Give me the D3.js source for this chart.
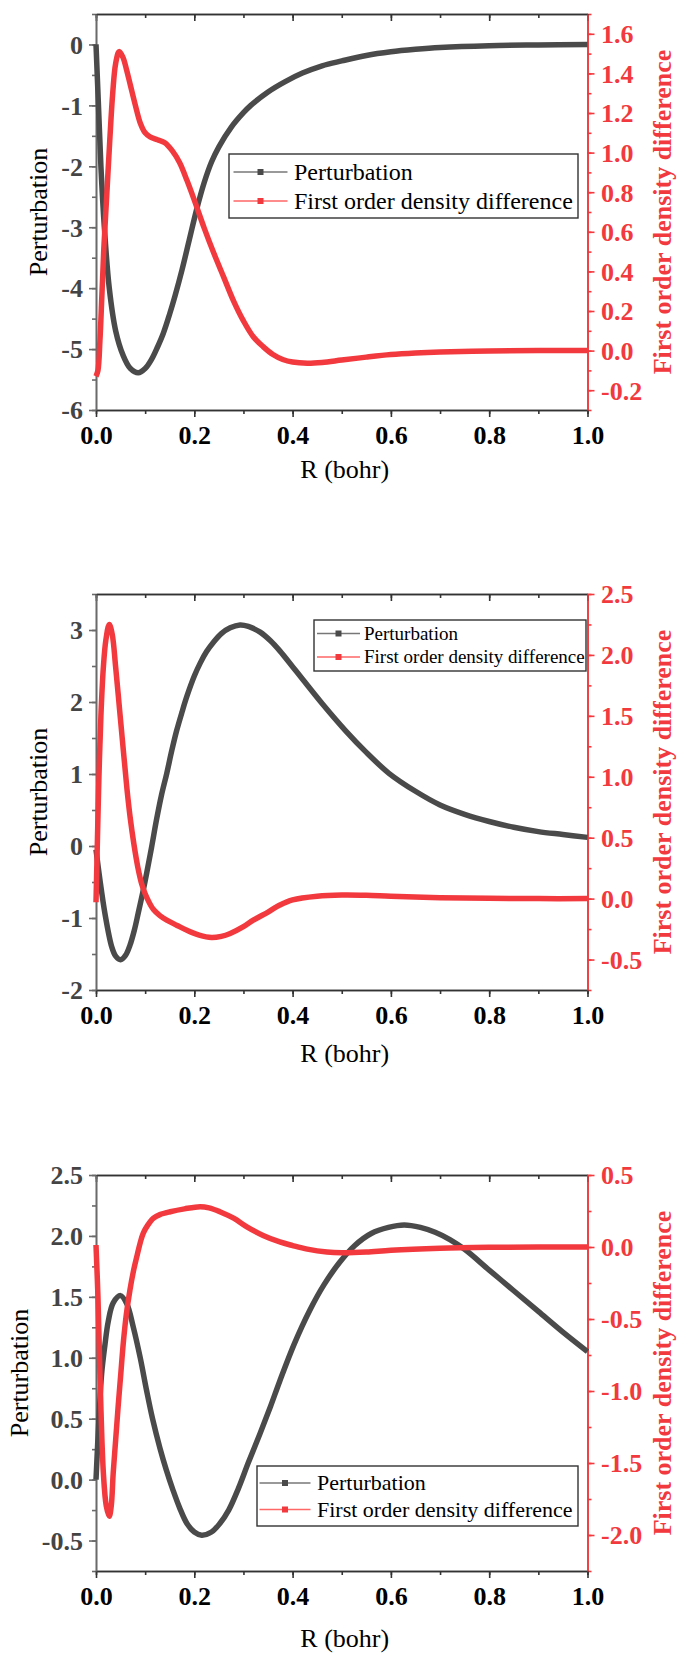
<!DOCTYPE html>
<html>
<head>
<meta charset="utf-8">
<script src="https://cdn.jsdelivr.net/npm/d3@7"></script>
<style>
  body { margin: 0; background: #fff; }
  svg text { font-family: "Liberation Serif", "Times New Roman", serif; }
</style>
</head>
<body>
<div id="chart"></div>
<script>
// ---------------- data (R in bohr) ----------------
var xTicks = [0, 0.2, 0.4, 0.6, 0.8, 1.0];

// panel 1
var p1PertR = [0, 0.005, 0.01, 0.017, 0.027, 0.04, 0.055, 0.07, 0.086, 0.1, 0.113, 0.125, 0.137, 0.15, 0.161, 0.175, 0.19, 0.205, 0.22, 0.235, 0.25, 0.275, 0.3, 0.315, 0.35, 0.385, 0.42, 0.46, 0.5, 0.55, 0.6, 0.65, 0.7, 0.8, 0.9, 1.0];
var p1PertV = [0, -1.0, -2.0, -3.0, -4.0, -4.7, -5.1, -5.32, -5.39, -5.32, -5.17, -4.97, -4.74, -4.42, -4.12, -3.7, -3.2, -2.7, -2.27, -1.93, -1.68, -1.36, -1.12, -1.0, -0.78, -0.61, -0.47, -0.35, -0.27, -0.18, -0.12, -0.08, -0.05, -0.02, -0.008, 0];
var p1DensR = [0, 0.004, 0.008, 0.012, 0.016, 0.022, 0.028, 0.034, 0.04, 0.047, 0.055, 0.062, 0.07, 0.08, 0.09, 0.1, 0.11, 0.125, 0.14, 0.155, 0.17, 0.185, 0.2, 0.22, 0.24, 0.26, 0.28, 0.3, 0.32, 0.34, 0.36, 0.38, 0.4, 0.43, 0.46, 0.5, 0.55, 0.6, 0.65, 0.7, 0.8, 0.9, 1.0];
var p1DensV = [-0.13, -0.1, 0.05, 0.28, 0.52, 0.79, 1.06, 1.3, 1.45, 1.51, 1.48, 1.42, 1.34, 1.24, 1.15, 1.1, 1.08, 1.065, 1.05, 1.01, 0.95, 0.86, 0.76, 0.62, 0.49, 0.37, 0.25, 0.15, 0.07, 0.02, -0.02, -0.045, -0.058, -0.064, -0.06, -0.048, -0.033, -0.02, -0.012, -0.007, -0.002, 0, 0];
var p1LeftTicks = [-6, -5, -4, -3, -2, -1, 0];
var p1RightTicks = [-0.2, 0, 0.2, 0.4, 0.6, 0.8, 1.0, 1.2, 1.4, 1.6];

// panel 2
var p2PertR = [0, 0.008, 0.018, 0.032, 0.04, 0.05, 0.06, 0.069, 0.078, 0.086, 0.095, 0.103, 0.113, 0.123, 0.133, 0.144, 0.154, 0.164, 0.175, 0.185, 0.2, 0.212, 0.225, 0.239, 0.255, 0.273, 0.293, 0.31, 0.334, 0.355, 0.374, 0.4, 0.42, 0.46, 0.508, 0.55, 0.596, 0.65, 0.7, 0.75, 0.8, 0.85, 0.9, 0.95, 1.0];
var p2PertV = [-0.05, -0.47, -0.93, -1.4, -1.53, -1.58, -1.52, -1.38, -1.17, -0.93, -0.65, -0.38, -0.02, 0.36, 0.7, 1.01, 1.32, 1.6, 1.86, 2.08, 2.36, 2.54, 2.7, 2.83, 2.95, 3.03, 3.07, 3.05, 2.97, 2.85, 2.71, 2.49, 2.32, 1.98, 1.6, 1.3, 1.01, 0.76, 0.57, 0.44, 0.34, 0.26, 0.2, 0.16, 0.12];
var p2DensR = [0, 0.003, 0.006, 0.01, 0.015, 0.02, 0.027, 0.033, 0.04, 0.048, 0.056, 0.063, 0.07, 0.077, 0.085, 0.093, 0.1, 0.108, 0.117, 0.13, 0.144, 0.165, 0.185, 0.21, 0.235, 0.255, 0.273, 0.3, 0.32, 0.35, 0.374, 0.4, 0.45, 0.5, 0.55, 0.6, 0.7, 0.8, 0.9, 1.0];
var p2DensV = [-0.03, 0.5, 1.0, 1.5, 1.9, 2.12, 2.25, 2.17, 1.9, 1.55, 1.2, 0.9, 0.65, 0.45, 0.26, 0.12, 0.04, -0.03, -0.09, -0.14, -0.177, -0.22, -0.26, -0.3, -0.32, -0.31, -0.286, -0.23, -0.177, -0.11, -0.053, -0.01, 0.02, 0.03, 0.028, 0.02, 0.008, 0.002, 0, 0];
var p2LeftTicks = [-2, -1, 0, 1, 2, 3];
var p2RightTicks = [-0.5, 0, 0.5, 1.0, 1.5, 2.0, 2.5];

// panel 3
var p3PertR = [0, 0.006, 0.0115, 0.018, 0.025, 0.035, 0.05, 0.063, 0.076, 0.09, 0.103, 0.115, 0.13, 0.143, 0.157, 0.17, 0.185, 0.2, 0.215, 0.235, 0.252, 0.27, 0.29, 0.31, 0.334, 0.355, 0.374, 0.403, 0.435, 0.464, 0.495, 0.526, 0.56, 0.595, 0.627, 0.66, 0.69, 0.72, 0.75, 0.8, 0.85, 0.9, 0.95, 1.0];
var p3PertV = [0, 0.5, 0.87, 1.1, 1.3, 1.45, 1.51, 1.44, 1.25, 1.0, 0.73, 0.5, 0.26, 0.08, -0.09, -0.23, -0.36, -0.43, -0.456, -0.43, -0.36, -0.25, -0.07, 0.14, 0.38, 0.6, 0.81, 1.11, 1.39, 1.6, 1.78, 1.92, 2.02, 2.07, 2.09, 2.07, 2.03, 1.97, 1.89, 1.72, 1.55, 1.38, 1.21, 1.05];
var p3DensR = [0, 0.004, 0.008, 0.015, 0.021, 0.027, 0.031, 0.035, 0.04, 0.045, 0.05, 0.056, 0.062, 0.069, 0.076, 0.083, 0.09, 0.096, 0.105, 0.117, 0.13, 0.151, 0.18, 0.212, 0.23, 0.252, 0.28, 0.307, 0.34, 0.374, 0.4, 0.43, 0.47, 0.5, 0.55, 0.6, 0.7, 0.8, 0.9, 1.0];
var p3DensV = [0.014, -0.35, -0.88, -1.57, -1.8, -1.87, -1.8, -1.57, -1.34, -1.11, -0.9, -0.65, -0.46, -0.3, -0.17, -0.067, 0.03, 0.095, 0.15, 0.2, 0.225, 0.245, 0.265, 0.28, 0.272, 0.245, 0.2, 0.14, 0.08, 0.035, 0.01, -0.015, -0.035, -0.04, -0.035, -0.022, -0.008, -0.002, 0, 0];
var p3LeftTicks = [-0.5, 0, 0.5, 1.0, 1.5, 2.0, 2.5];
var p3RightTicks = [-2.0, -1.5, -1.0, -0.5, 0, 0.5];

var seriesNames = ['Perturbation', 'First order density difference'];

// ---------------- layout / style ----------------
var W = 678, H = 1654;
var X0 = 96, X1 = 587.5, PH = 396;
var GRAY = '#4a4a4a', RED = '#f2393e';
var SERIF = '"Liberation Serif", "Times New Roman", serif';

function zip(a, b) { return a.map(function (d, i) { return [d, b[i]]; }); }

var panels = [
  { top: 14, left: [-6, 0.5], right: [-0.3, 1.7], lt: p1LeftTicks, ltMinor: 0.5, ldec: 0,
    rt: p1RightTicks, rtMinor: 0.1, rdec: 1,
    pert: zip(p1PertR, p1PertV), dens: zip(p1DensR, p1DensV),
    ylabX: 38, xlabDy: 68,
    legend: { x: 229, y: 154, w: 349, h: 64, fs: 24, rows: [18, 47], sx: 4.5, sw: 54, tx: 65 } },
  { top: 594, left: [-2, 3.5], right: [-0.75, 2.5], lt: p2LeftTicks, ltMinor: 0.5, ldec: 0,
    rt: p2RightTicks, rtMinor: 0.25, rdec: 1,
    pert: zip(p2PertR, p2PertV), dens: zip(p2DensR, p2DensV),
    ylabX: 38, xlabDy: 72,
    legend: { x: 314, y: 620, w: 272, h: 51, fs: 19, rows: [13.5, 37], sx: 3, sw: 43, tx: 50 } },
  { top: 1175, left: [-0.75, 2.5], right: [-2.25, 0.5], lt: p3LeftTicks, ltMinor: 0.25, ldec: 1,
    rt: p3RightTicks, rtMinor: 0.25, rdec: 1,
    pert: zip(p3PertR, p3PertV), dens: zip(p3DensR, p3DensV),
    ylabX: 19, xlabDy: 76,
    legend: { x: 257, y: 1466, w: 321, h: 60, fs: 22, rows: [17, 43.5], sx: 2.5, sw: 51, tx: 60 } }
];

var svg = d3.select('#chart').append('svg')
  .attr('width', W).attr('height', H)
  .style('background', '#fff');

function fmt(dec) {
  return function (v) {
    var s = (Math.round(v * 1000) / 1000).toFixed(dec);
    return s === '-0' || s === '-0.0' ? s.slice(1) : s;
  };
}

function minorTicks(domain, step) {
  var out = [];
  var start = Math.ceil(domain[0] / step - 1e-9) * step;
  for (var v = start; v <= domain[1] + 1e-9; v += step) out.push(Math.round(v * 1e6) / 1e6);
  return out;
}

function styleAxis(g, color, labelColor, fs) {
  g.attr('font-family', SERIF);
  g.select('.domain').attr('stroke', color).attr('stroke-width', 1.6);
  g.selectAll('.tick line').attr('stroke', color).attr('stroke-width', 1.6);
  g.selectAll('.tick text')
    .attr('fill', labelColor)
    .style('font-family', SERIF)
    .style('font-size', fs + 'px')
    .style('font-weight', 'bold');
}

panels.forEach(function (p) {
  var x = d3.scaleLinear().domain([0, 1]).range([X0, X1]);
  var yL = d3.scaleLinear().domain(p.left).range([p.top + PH, p.top]);
  var yR = d3.scaleLinear().domain(p.right).range([p.top + PH, p.top]);
  var g = svg.append('g');

  // minor ticks first, majors on top
  g.append('g').attr('transform', 'translate(0,' + (p.top + PH) + ')')
    .call(d3.axisBottom(x).tickValues(minorTicks([0, 1], 0.1)).tickSize(4).tickSizeOuter(0).tickFormat(''))
    .call(styleAxis, '#333', '#000', 26);
  g.append('g').attr('transform', 'translate(0,' + p.top + ')')
    .call(d3.axisTop(x).tickValues(minorTicks([0, 1], 0.1)).tickSize(-4).tickSizeOuter(0).tickFormat(''))
    .call(styleAxis, '#333', '#000', 26);
  g.append('g').attr('transform', 'translate(' + X0 + ',0)')
    .call(d3.axisLeft(yL).tickValues(minorTicks(p.left, p.ltMinor)).tickSize(4).tickSizeOuter(0).tickFormat(''))
    .call(styleAxis, '#6a6a6a', '#444', 26);
  g.append('g').attr('transform', 'translate(' + X1 + ',0)')
    .call(d3.axisRight(yR).tickValues(minorTicks(p.right, p.rtMinor)).tickSize(4).tickSizeOuter(0).tickFormat(''))
    .call(styleAxis, RED, RED, 26);

  g.append('g').attr('transform', 'translate(0,' + (p.top + PH) + ')')
    .call(d3.axisBottom(x).tickValues(xTicks).tickSize(7).tickSizeOuter(0).tickPadding(8.5).tickFormat(fmt(1)))
    .call(styleAxis, '#333', '#000', 26);
  g.append('g').attr('transform', 'translate(0,' + p.top + ')')
    .call(d3.axisTop(x).tickValues(xTicks).tickSize(-7).tickSizeOuter(0).tickFormat(''))
    .call(styleAxis, '#333', '#000', 26);
  var leftAx = g.append('g').attr('transform', 'translate(' + X0 + ',0)')
    .call(d3.axisLeft(yL).tickValues(p.lt).tickSize(7).tickSizeOuter(0).tickPadding(6).tickFormat(fmt(p.ldec)))
    .call(styleAxis, '#6a6a6a', '#444', 26);
  leftAx.selectAll('.tick text').attr('dy', '0.34em');
  var rightAx = g.append('g').attr('transform', 'translate(' + X1 + ',0)')
    .call(d3.axisRight(yR).tickValues(p.rt).tickSize(7).tickSizeOuter(0).tickPadding(6.5).tickFormat(fmt(p.rdec)))
    .call(styleAxis, RED, RED, 26);
  rightAx.selectAll('.tick text').attr('dy', '0.34em');

  // curves
  var lineL = d3.line().x(function (d) { return x(d[0]); }).y(function (d) { return yL(d[1]); }).curve(d3.curveCatmullRom.alpha(0.5));
  var lineR = d3.line().x(function (d) { return x(d[0]); }).y(function (d) { return yR(d[1]); }).curve(d3.curveCatmullRom.alpha(0.5));

  g.append('path').datum(p.pert)
    .attr('d', lineL)
    .attr('fill', 'none')
    .attr('stroke', GRAY)
    .attr('stroke-width', 5.5)
    .attr('stroke-linejoin', 'round');
  g.append('path').datum(p.dens)
    .attr('d', lineR)
    .attr('fill', 'none')
    .attr('stroke', RED)
    .attr('stroke-width', 5.5)
    .attr('stroke-linejoin', 'round');

  // axis titles
  g.append('text')
    .attr('x', (X0 + X1) / 2 + 3)
    .attr('y', p.top + PH + p.xlabDy)
    .attr('text-anchor', 'middle')
    .style('font-family', SERIF)
    .style('font-size', '26px')
    .attr('fill', '#000')
    .text('R (bohr)');
  g.append('text')
    .attr('transform', 'translate(' + p.ylabX + ',' + (p.top + PH / 2) + ') rotate(-90)')
    .attr('text-anchor', 'middle')
    .attr('dy', '0.35em')
    .style('font-family', SERIF)
    .style('font-size', '26px')
    .attr('fill', '#000')
    .text('Perturbation');
  g.append('text')
    .attr('transform', 'translate(662,' + (p.top + PH / 2) + ') rotate(-90)')
    .attr('text-anchor', 'middle')
    .attr('dy', '0.35em')
    .style('font-family', SERIF)
    .style('font-size', '26px')
    .style('font-weight', 'bold')
    .attr('fill', RED)
    .text('First order density difference');

  // legend
  var L = p.legend;
  var lg = g.append('g').attr('transform', 'translate(' + L.x + ',' + L.y + ')');
  lg.append('rect')
    .attr('width', L.w).attr('height', L.h)
    .attr('fill', '#fff')
    .attr('stroke', '#333')
    .attr('stroke-width', 1.4);
  var items = lg.selectAll('.item')
    .data(seriesNames)
    .enter().append('g')
    .attr('class', 'item')
    .attr('transform', function (d, i) { return 'translate(0,' + L.rows[i] + ')'; });
  items.append('line')
    .attr('x1', L.sx).attr('x2', L.sx + L.sw)
    .attr('stroke', function (d, i) { return i ? '#f66' : '#777'; })
    .attr('stroke-width', 1.5);
  items.append('rect')
    .attr('x', L.sx + L.sw / 2 - 3).attr('y', -3)
    .attr('width', 6).attr('height', 6)
    .attr('fill', function (d, i) { return i ? RED : GRAY; });
  items.append('text')
    .attr('x', L.tx)
    .attr('dy', '0.33em')
    .style('font-family', SERIF)
    .style('font-size', L.fs + 'px')
    .attr('fill', '#000')
    .text(function (d) { return d; });
});
</script>
</body>
</html>
